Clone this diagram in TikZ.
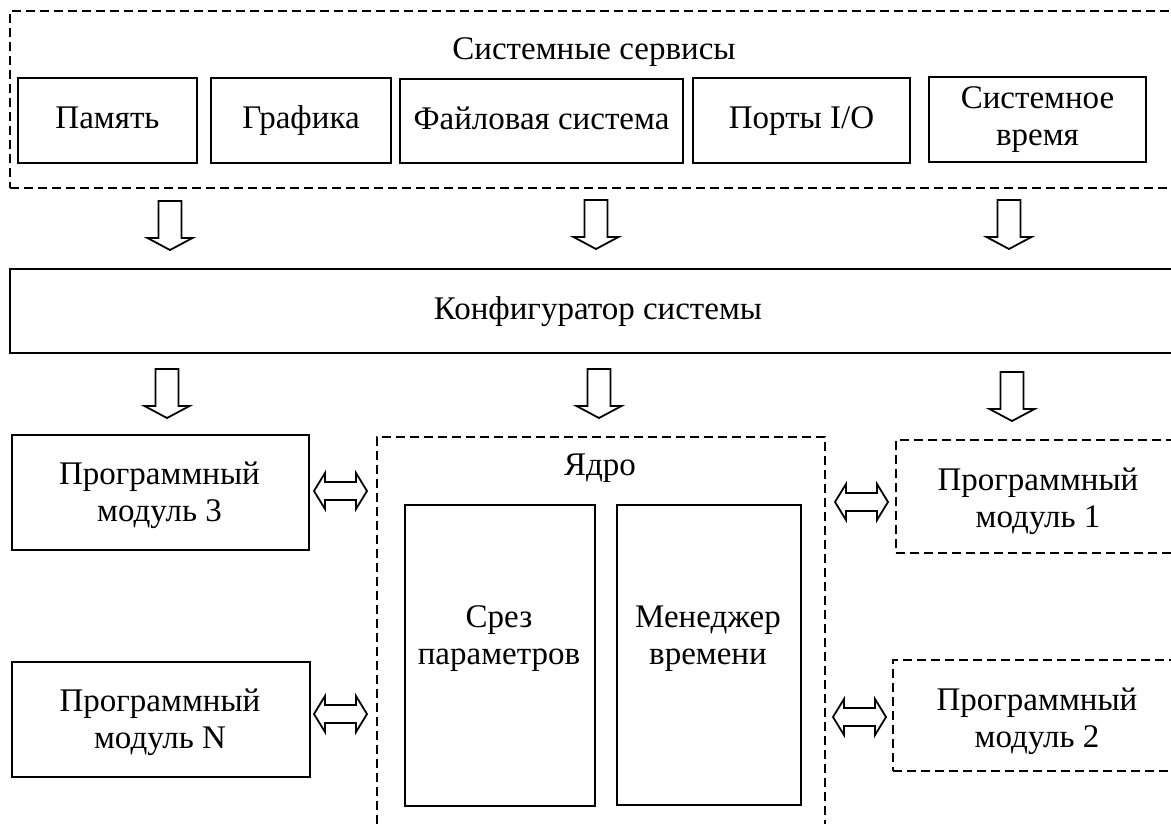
\documentclass[tikz,border=0pt]{standalone}
\usepackage{fontspec}
\setmainfont{Liberation Serif}
\begin{document}
\begin{tikzpicture}[x=1pt,y=-1pt,
  every node/.style={font=\fontsize{33}{37}\selectfont},
  box/.style={draw, line width=2pt, inner sep=0pt, align=center},
  dbox/.style={draw, line width=1.8pt, dash pattern=on 9pt off 5pt, inner sep=0pt, align=center},
  one/.style={text height=23pt, text depth=7pt},
  txt/.style={inner sep=0pt, align=center},
  blk/.style={draw, line width=1.8pt, line join=miter, fill=white},
  downarr/.pic={\draw[blk] (-11.5,0) -- (11.5,0) -- (11.5,37) -- (22.5,37) -- (0,49) -- (-22.5,37) -- (-11.5,37) -- cycle;},
  dblarr/.pic={\draw[blk] (0,0) -- (11,-18) -- (11,-9) -- (42,-9) -- (42,-18) -- (53,0) -- (42,18) -- (42,9) -- (11,9) -- (11,18) -- cycle;}
]
\useasboundingbox (0,0) rectangle (1171,823);
\clip (0,0) rectangle (1171,823);

% system services
\node[dbox, anchor=north west, minimum width=1170, minimum height=177] (sys) at (9,10) {};
\node[txt, anchor=base] (systitle) at (594,59) {Системные сервисы};
\node[box, one, minimum width=179, minimum height=85] (pam) at (107.5,120.5) {Память};
\node[box, one, minimum width=180, minimum height=85] (graf) at (301,120.5) {Графика};
\node[box, one, minimum width=283, minimum height=84] (fs) at (541.5,121) {Файловая система};
\node[box, one, minimum width=217, minimum height=85] (ports) at (801.5,120.5) {Порты I/O};
\node[box, minimum width=217, minimum height=85] (time) at (1037.5,119.5) {Системное\\время};

% configurator
\node[box, one, anchor=north west, minimum width=1176, minimum height=84] (konf) at (9,268) {Конфигуратор системы};

% modules left
\node[box, anchor=north west, minimum width=297, minimum height=115] (mod3) at (11,434) {};
\node[txt] (mod3txt) at (159.5,495.5) {Программный\\модуль 3};
\node[box, anchor=north west, minimum width=298, minimum height=115] (modN) at (11,661) {};
\node[txt] (modNtxt) at (160,722) {Программный\\модуль N};

% kernel
\node[dbox, anchor=north west, minimum width=448, minimum height=420] (kern) at (376,436) {};
\node[txt, anchor=base] (kerntitle) at (600,475) {Ядро};
\node[box, anchor=north west, minimum width=190, minimum height=301] (srez) at (404,504) {};
\node[txt] (sreztxt) at (499,639) {Срез\\параметров};
\node[box, anchor=north west, minimum width=184, minimum height=300] (men) at (616,504) {};
\node[txt] (mentxt) at (708,639) {Менеджер\\времени};

% modules right
\node[dbox, anchor=north west, minimum width=286, minimum height=113] (mod1) at (895,439) {};
\node[txt] (mod1txt) at (1038,501) {Программный\\модуль 1};
\node[dbox, anchor=north west, minimum width=290, minimum height=111] (mod2) at (892,659) {};
\node[txt] (mod2txt) at (1037,721) {Программный\\модуль 2};

% block arrows
\pic at (170,201) {downarr};
\pic at (596,200) {downarr};
\pic at (1009,200) {downarr};
\pic at (167,369) {downarr};
\pic at (599,369) {downarr};
\pic at (1012,372) {downarr};

\pic at (314,491) {dblarr};
\pic at (314,714) {dblarr};
\pic at (835,502) {dblarr};
\pic at (833,717) {dblarr};
\end{tikzpicture}
\end{document}
